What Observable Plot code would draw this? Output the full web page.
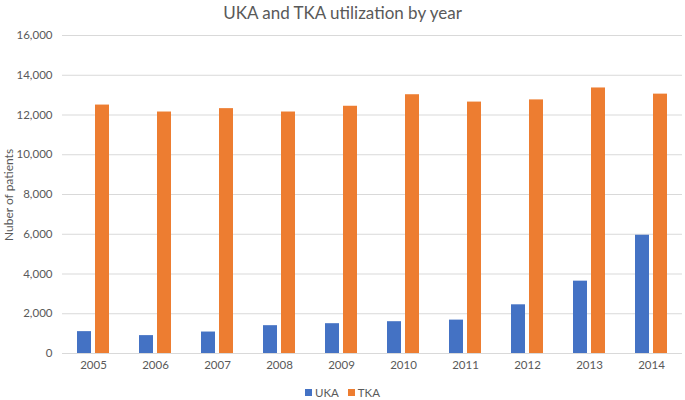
<!DOCTYPE html>
<html>
<head>
<meta charset="utf-8">
<script src="https://cdn.jsdelivr.net/npm/d3@7"></script>
<script src="https://cdn.jsdelivr.net/npm/@observablehq/plot@0.6"></script>
<style>
  body { margin: 0; background: #fff; font-family: Lato, "Open Sans", sans-serif; color: #595959; }
  #wrap { position: relative; width: 685px; }
  #title { height: 24px; line-height: 26px; text-align: center; font-size: 17px; color: #595959; }
  #ylabel { position: absolute; left: 8px; top: 195px; transform: translate(-50%, -50%) rotate(-90deg); white-space: nowrap; font-size: 12px; color: #595959; }
  #legend { display: flex; justify-content: center; gap: 9px; font-size: 11.5px; color: #595959; margin-top: 5px; }
  #legend span.sw { display: inline-block; width: 7px; height: 7px; margin-right: 3px; }
  #legend div { display: flex; align-items: center; }
</style>
</head>
<body>
<div id="wrap">
<div id="title">UKA and TKA utilization by year</div>
<div id="ylabel"></div>
<div id="chart"></div>
<div id="legend"></div>
</div>
<script>
const years = ["2005","2006","2007","2008","2009","2010","2011","2012","2013","2014"];
const ukaValues = [1100, 900, 1080, 1400, 1500, 1600, 1680, 2450, 3640, 5950];
const tkaValues = [12500, 12150, 12320, 12150, 12440, 13020, 12650, 12760, 13360, 13050];
const seriesNames = ["UKA", "TKA"];
const seriesColors = ["#4472C4", "#ED7D31"];
const yTicks = [0, 2000, 4000, 6000, 8000, 10000, 12000, 14000, 16000];
const yLabel = "Nuber of patients";

const data = years.flatMap((yr, i) => [
  {year: yr, series: "UKA", value: ukaValues[i]},
  {year: yr, series: "TKA", value: tkaValues[i]}
]);

const fmt = d3.format(",");
const chart = Plot.plot({
  width: 685,
  height: 357,
  marginLeft: 62,
  marginRight: 3,
  marginTop: 11,
  marginBottom: 28,
  style: {fontFamily: "Lato, 'Open Sans', sans-serif", fontSize: "11.5px", color: "#595959", background: "#fff"},
  facet: {data, x: "year"},
  fx: {domain: years, padding: 0, label: null, tickSize: 0, tickPadding: 7},
  x: {domain: seriesNames, axis: null, paddingInner: 0.222, paddingOuter: 0.833},
  y: {domain: [0, 16000], ticks: yTicks, tickFormat: d => fmt(d), tickSize: 0, tickPadding: 10, label: null},
  color: {domain: seriesNames, range: seriesColors},
  marks: [
    Plot.ruleY(yTicks, {stroke: "#d9d9d9", strokeWidth: 1}),
    Plot.barY(data, {x: "series", y: "value", fill: "series"})
  ]
});
document.getElementById("chart").appendChild(chart);
document.getElementById("ylabel").textContent = yLabel;

const legend = document.getElementById("legend");
seriesNames.forEach((s, i) => {
  const d = document.createElement("div");
  const sw = document.createElement("span");
  sw.className = "sw";
  sw.style.background = seriesColors[i];
  d.appendChild(sw);
  d.appendChild(document.createTextNode(s));
  legend.appendChild(d);
});
</script>
</body>
</html>
